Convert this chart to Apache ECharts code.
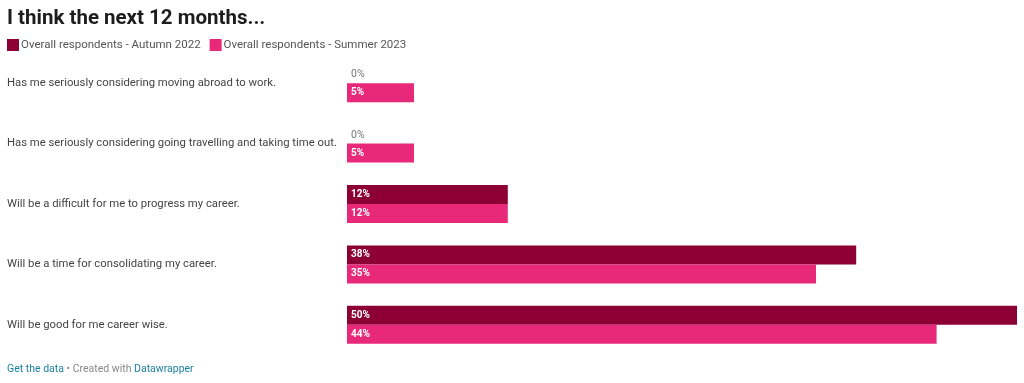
<!DOCTYPE html>
<html><head><meta charset="utf-8">
<script src="https://cdn.jsdelivr.net/npm/echarts@6/dist/echarts.min.js"></script>
<style>html,body{margin:0;padding:0;background:#fff}#c{width:1024px;height:383px}</style>
</head><body><div id="c"></div>
<script>
const categories = [
  "Has me seriously considering moving abroad to work.",
  "Has me seriously considering going travelling and taking time out.",
  "Will be a difficult for me to progress my career.",
  "Will be a time for consolidating my career.",
  "Will be good for me career wise."
];
const seriesNames = ["Overall respondents - Autumn 2022", "Overall respondents - Summer 2023"];
const autumn2022 = [0, 0, 12, 38, 50];
const summer2023 = [5, 5, 12, 35, 44];
const colors = ["#8c0034", "#e8297a"];

function mk(vals){
  return vals.map(v => v === 0 ? {value: v, label: {color: '#777', fontWeight: 'normal', fontSize: 10.5, offset: [0, 1]}} : v);
}
const chart = echarts.init(document.getElementById('c'));
chart.setOption({
  animation: false,
  textStyle: {fontFamily: 'Roboto'},
  title: [{
    text: 'I think the next 12 months...', left: 2, top: 3,
    textStyle: {fontSize: 20.5, fontWeight: 'bold', color: '#1d1d1d', fontFamily: 'Roboto'}
  }, {
    text: '{a|Get the data}{b| • Created with }{a|Datawrapper}', left: 2, top: 359,
    textStyle: {fontWeight: 'normal', rich: {a: {color: '#1d81a2', fontSize: 10.5, fontWeight: 'normal', fontFamily: 'Roboto'}, b: {color: '#888', fontSize: 10.5, fontWeight: 'normal', fontFamily: 'Roboto'}}}
  }],
  legend: {
    left: 2, top: 34, itemWidth: 12, itemHeight: 12, itemGap: 9, icon: 'rect',
    textStyle: {fontSize: 11.5, color: '#555', padding: [0,0,0,-3]},
    data: seriesNames
  },
  grid: {left: 347, right: 7, top: 53, bottom: 28, containLabel: false},
  xAxis: {type: 'value', min: 0, max: 50, show: false},
  yAxis: {
    type: 'category', data: categories, inverse: true,
    axisLine: {show: false}, axisTick: {show: false},
    axisLabel: {align: 'left', margin: 340, fontSize: 11.3, color: '#444'}
  },
  series: [
    {name: seriesNames[0], type: 'bar', data: mk(autumn2022), barWidth: 19, barGap: '0%', itemStyle: {color: colors[0]},
     label: {show: true, position: 'insideLeft', distance: 4, formatter: '{c}%', color: '#fff', fontWeight: 'bold', fontSize: 10}},
    {name: seriesNames[1], type: 'bar', data: mk(summer2023), barWidth: 19, barGap: '0%', itemStyle: {color: colors[1]},
     label: {show: true, position: 'insideLeft', distance: 4, formatter: '{c}%', color: '#fff', fontWeight: 'bold', fontSize: 10}}
  ]
});
</script></body></html>
